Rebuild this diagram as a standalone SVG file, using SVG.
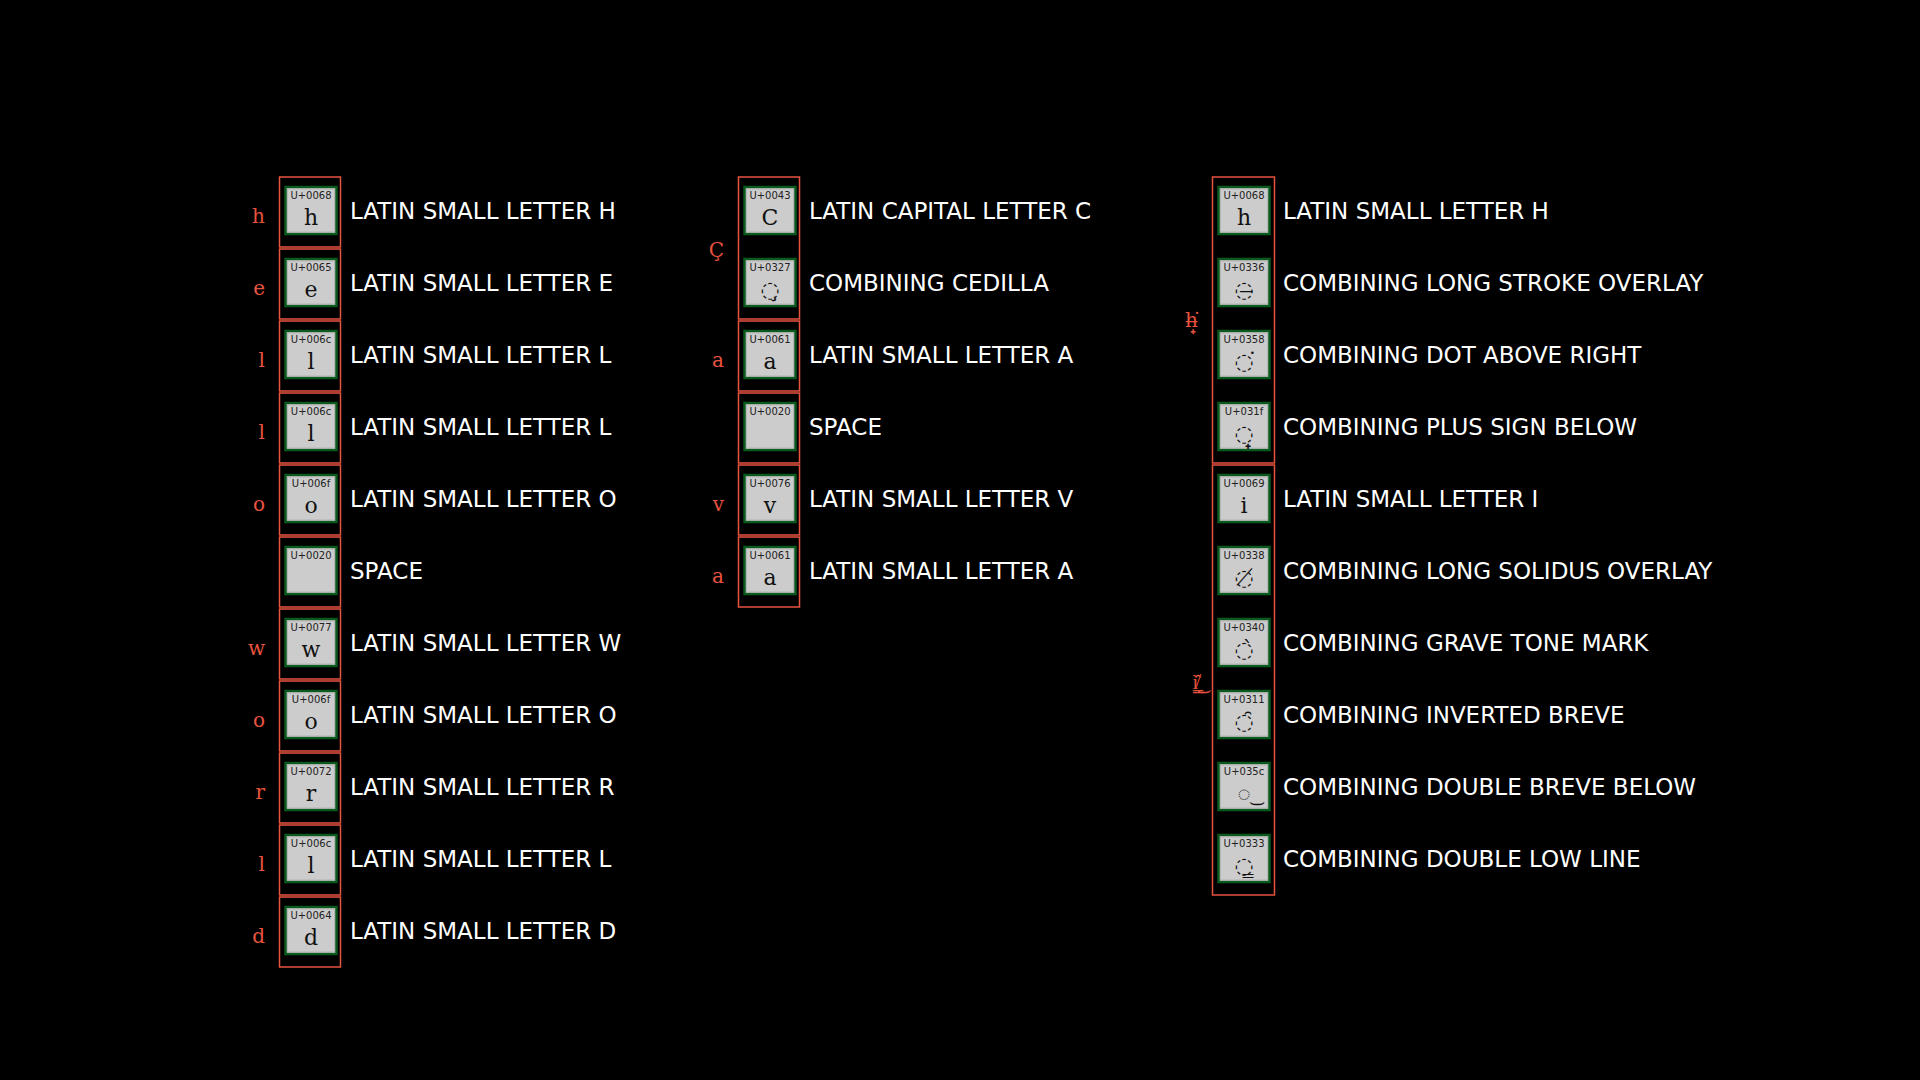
<svg xmlns="http://www.w3.org/2000/svg" width="1920" height="1080" viewBox="0 0 1920 1080">
<style>
.bg{fill:#000}
.cl{fill:none;stroke:#e8533f;stroke-width:1.5}
.bx{fill:#cccccc;stroke:#0a5a1e;stroke-width:2.5}
.bi{fill:none;stroke:#b4b4b4;stroke-width:1}
.cp{font-family:"DejaVu Sans",sans-serif;font-size:10px;fill:#222;text-anchor:middle}
.gl{font-family:"DejaVu Serif",serif;font-size:22px;fill:#111;text-anchor:middle}
.nm{font-family:"DejaVu Sans",sans-serif;font-size:23px;fill:#fff}
.rl{font-family:"DejaVu Serif",serif;font-size:20px;fill:#e8533f;text-anchor:end}
</style>
<defs>
<g id="box">
<rect class="bx" x="6.5" y="11" width="51" height="47"/>
<rect class="bi" x="8.5" y="13" width="47" height="43"/>
</g>
</defs>
<rect class="bg" x="0" y="0" width="1920" height="1080"/>

<g id="clusters">
<rect class="cl" x="279.5" y="177" width="61" height="70"/>
<rect class="cl" x="279.5" y="249" width="61" height="70"/>
<rect class="cl" x="279.5" y="321" width="61" height="70"/>
<rect class="cl" x="279.5" y="393" width="61" height="70"/>
<rect class="cl" x="279.5" y="465" width="61" height="70"/>
<rect class="cl" x="279.5" y="537" width="61" height="70"/>
<rect class="cl" x="279.5" y="609" width="61" height="70"/>
<rect class="cl" x="279.5" y="681" width="61" height="70"/>
<rect class="cl" x="279.5" y="753" width="61" height="70"/>
<rect class="cl" x="279.5" y="825" width="61" height="70"/>
<rect class="cl" x="279.5" y="897" width="61" height="70"/>

<rect class="cl" x="738.5" y="177" width="61" height="142"/>
<rect class="cl" x="738.5" y="321" width="61" height="70"/>
<rect class="cl" x="738.5" y="393" width="61" height="70"/>
<rect class="cl" x="738.5" y="465" width="61" height="70"/>
<rect class="cl" x="738.5" y="537" width="61" height="70"/>

<rect class="cl" x="1212.5" y="177" width="62" height="286"/>
<rect class="cl" x="1212.5" y="465" width="62" height="430"/>
</g>

<g id="cluster-labels">
<text class="rl" x="265" y="223">h</text>
<text class="rl" x="265" y="295">e</text>
<text class="rl" x="265" y="367">l</text>
<text class="rl" x="265" y="439">l</text>
<text class="rl" x="265" y="511">o</text>
<text class="rl" x="265" y="655">w</text>
<text class="rl" x="265" y="727">o</text>
<text class="rl" x="265" y="799">r</text>
<text class="rl" x="265" y="871">l</text>
<text class="rl" x="265" y="943">d</text>
<text class="rl" x="724" y="257">C&#x0327;</text>
<text class="rl" x="724" y="367">a</text>
<text class="rl" x="724" y="511">v</text>
<text class="rl" x="724" y="583">a</text>
<text class="rl" x="1198" y="327">h&#x0336;&#x0358;&#x031F;</text>
<text class="rl" x="1198" y="689">i&#x0338;&#x0340;&#x0311;&#x035C;&#x0333;</text>
</g>

<g id="connectors"/>

<g id="c1r0" transform="translate(279,176)"><use href="#box"/><text class="cp" x="32" y="22.7">U+0068</text><text class="gl" x="32" y="49">h</text><text class="nm" x="71" y="43">LATIN SMALL LETTER H</text></g>
<g id="c1r1" transform="translate(279,248)"><use href="#box"/><text class="cp" x="32" y="22.7">U+0065</text><text class="gl" x="32" y="49">e</text><text class="nm" x="71" y="43">LATIN SMALL LETTER E</text></g>
<g id="c1r2" transform="translate(279,320)"><use href="#box"/><text class="cp" x="32" y="22.7">U+006c</text><text class="gl" x="32" y="49">l</text><text class="nm" x="71" y="43">LATIN SMALL LETTER L</text></g>
<g id="c1r3" transform="translate(279,392)"><use href="#box"/><text class="cp" x="32" y="22.7">U+006c</text><text class="gl" x="32" y="49">l</text><text class="nm" x="71" y="43">LATIN SMALL LETTER L</text></g>
<g id="c1r4" transform="translate(279,464)"><use href="#box"/><text class="cp" x="32" y="22.7">U+006f</text><text class="gl" x="32" y="49">o</text><text class="nm" x="71" y="43">LATIN SMALL LETTER O</text></g>
<g id="c1r5" transform="translate(279,536)"><use href="#box"/><text class="cp" x="32" y="22.7">U+0020</text><text class="nm" x="71" y="43">SPACE</text></g>
<g id="c1r6" transform="translate(279,608)"><use href="#box"/><text class="cp" x="32" y="22.7">U+0077</text><text class="gl" x="32" y="49">w</text><text class="nm" x="71" y="43">LATIN SMALL LETTER W</text></g>
<g id="c1r7" transform="translate(279,680)"><use href="#box"/><text class="cp" x="32" y="22.7">U+006f</text><text class="gl" x="32" y="49">o</text><text class="nm" x="71" y="43">LATIN SMALL LETTER O</text></g>
<g id="c1r8" transform="translate(279,752)"><use href="#box"/><text class="cp" x="32" y="22.7">U+0072</text><text class="gl" x="32" y="49">r</text><text class="nm" x="71" y="43">LATIN SMALL LETTER R</text></g>
<g id="c1r9" transform="translate(279,824)"><use href="#box"/><text class="cp" x="32" y="22.7">U+006c</text><text class="gl" x="32" y="49">l</text><text class="nm" x="71" y="43">LATIN SMALL LETTER L</text></g>
<g id="c1r10" transform="translate(279,896)"><use href="#box"/><text class="cp" x="32" y="22.7">U+0064</text><text class="gl" x="32" y="49">d</text><text class="nm" x="71" y="43">LATIN SMALL LETTER D</text></g>

<g id="c2r0" transform="translate(738,176)"><use href="#box"/><text class="cp" x="32" y="22.7">U+0043</text><text class="gl" x="32" y="49">C</text><text class="nm" x="71" y="43">LATIN CAPITAL LETTER C</text></g>
<g id="c2r1" transform="translate(738,248)"><use href="#box"/><text class="cp" x="32" y="22.7">U+0327</text><text class="gl" x="32" y="49">&#x25CC;&#x0327;</text><text class="nm" x="71" y="43">COMBINING CEDILLA</text></g>
<g id="c2r2" transform="translate(738,320)"><use href="#box"/><text class="cp" x="32" y="22.7">U+0061</text><text class="gl" x="32" y="49">a</text><text class="nm" x="71" y="43">LATIN SMALL LETTER A</text></g>
<g id="c2r3" transform="translate(738,392)"><use href="#box"/><text class="cp" x="32" y="22.7">U+0020</text><text class="nm" x="71" y="43">SPACE</text></g>
<g id="c2r4" transform="translate(738,464)"><use href="#box"/><text class="cp" x="32" y="22.7">U+0076</text><text class="gl" x="32" y="49">v</text><text class="nm" x="71" y="43">LATIN SMALL LETTER V</text></g>
<g id="c2r5" transform="translate(738,536)"><use href="#box"/><text class="cp" x="32" y="22.7">U+0061</text><text class="gl" x="32" y="49">a</text><text class="nm" x="71" y="43">LATIN SMALL LETTER A</text></g>

<g id="c3r0" transform="translate(1212,176)"><use href="#box"/><text class="cp" x="32" y="22.7">U+0068</text><text class="gl" x="32" y="49">h</text><text class="nm" x="71" y="43">LATIN SMALL LETTER H</text></g>
<g id="c3r1" transform="translate(1212,248)"><use href="#box"/><text class="cp" x="32" y="22.7">U+0336</text><text class="gl" x="32" y="49">&#x25CC;&#x0336;</text><text class="nm" x="71" y="43">COMBINING LONG STROKE OVERLAY</text></g>
<g id="c3r2" transform="translate(1212,320)"><use href="#box"/><text class="cp" x="32" y="22.7">U+0358</text><text class="gl" x="32" y="49">&#x25CC;&#x0358;</text><text class="nm" x="71" y="43">COMBINING DOT ABOVE RIGHT</text></g>
<g id="c3r3" transform="translate(1212,392)"><use href="#box"/><text class="cp" x="32" y="22.7">U+031f</text><text class="gl" x="32" y="49">&#x25CC;&#x031F;</text><text class="nm" x="71" y="43">COMBINING PLUS SIGN BELOW</text></g>
<g id="c3r4" transform="translate(1212,464)"><use href="#box"/><text class="cp" x="32" y="22.7">U+0069</text><text class="gl" x="32" y="49">i</text><text class="nm" x="71" y="43">LATIN SMALL LETTER I</text></g>
<g id="c3r5" transform="translate(1212,536)"><use href="#box"/><text class="cp" x="32" y="22.7">U+0338</text><text class="gl" x="32" y="49">&#x25CC;&#x0338;</text><text class="nm" x="71" y="43">COMBINING LONG SOLIDUS OVERLAY</text></g>
<g id="c3r6" transform="translate(1212,608)"><use href="#box"/><text class="cp" x="32" y="22.7">U+0340</text><text class="gl" x="32" y="49">&#x25CC;&#x0340;</text><text class="nm" x="71" y="43">COMBINING GRAVE TONE MARK</text></g>
<g id="c3r7" transform="translate(1212,680)"><use href="#box"/><text class="cp" x="32" y="22.7">U+0311</text><text class="gl" x="32" y="49">&#x25CC;&#x0311;</text><text class="nm" x="71" y="43">COMBINING INVERTED BREVE</text></g>
<g id="c3r8" transform="translate(1212,752)"><use href="#box"/><text class="cp" x="32" y="22.7">U+035c</text><text class="gl" x="32" y="49">&#x25CC;&#x035C;</text><text class="nm" x="71" y="43">COMBINING DOUBLE BREVE BELOW</text></g>
<g id="c3r9" transform="translate(1212,824)"><use href="#box"/><text class="cp" x="32" y="22.7">U+0333</text><text class="gl" x="32" y="49">&#x25CC;&#x0333;</text><text class="nm" x="71" y="43">COMBINING DOUBLE LOW LINE</text></g>
</svg>
